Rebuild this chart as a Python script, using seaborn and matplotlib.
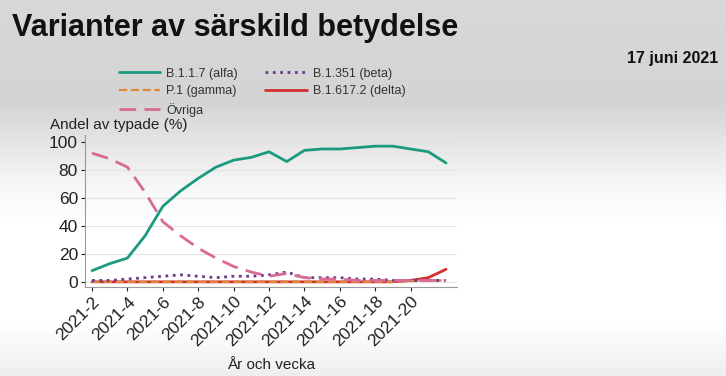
import matplotlib
matplotlib.use("Agg")
import matplotlib.pyplot as plt
import seaborn as sns
import pandas as pd
import numpy as np
from matplotlib.colors import LinearSegmentedColormap

weeks = list(range(2, 23))
alfa = [8, 13, 17, 33, 54, 65, 74, 82, 87, 89, 93, 86, 94, 95, 95, 96, 97, 97, 95, 93, 85]
beta = [1, 1, 2, 3, 4, 5, 4, 3, 4, 4, 5, 7, 3, 3, 3, 2, 2, 1, 1, 1, 1]
gamma = [0, 0, 0, 0, 0, 0, 0, 0, 0, 0, 0, 0, 0, 0, 0, 0, 0, 0, 0.5, 1, 1]
delta = [0, 0, 0, 0, 0, 0, 0, 0, 0, 0, 0, 0, 0, 0, 0, 0, 0, 0, 1, 3, 9]
ovriga = [92, 88, 82, 64, 43, 33, 24, 17, 11, 7, 4, 6, 3, 2, 2, 1, 1, 1, 1, 1, 1]
tick_weeks = list(range(2, 21, 2))
tick_labels = [f"2021-{w}" for w in tick_weeks]

series = [
    ("B.1.1.7 (alfa)", alfa, "#1b9a80", "-", 2.0),
    ("B.1.351 (beta)", beta, "#6b3a8c", ":", 2.0),
    ("P.1 (gamma)", gamma, "#e0883a", "--", 1.6),
    ("B.1.617.2 (delta)", delta, "#d23030", "-", 2.0),
    ("Övriga", ovriga, "#d86a95", (0, (6, 3)), 2.0),
]

sns.set_theme(style="white")
plt.rcParams["font.family"] = ["Liberation Sans", "DejaVu Sans"]

fig = plt.figure(figsize=(7.26, 3.76), dpi=100)
fig.patch.set_facecolor("#f0f0f0")

# background gradient
bg = fig.add_axes([0, 0, 1, 1], zorder=-10)
bg.set_axis_off()
cmap = LinearSegmentedColormap.from_list(
    "bg", [(0.0, "#d8d8d8"), (0.27, "#d4d4d4"), (0.5, "#f8f8f8"),
           (0.6, "#ffffff"), (0.87, "#ffffff"), (1.0, "#eeeeee")])
grad = np.linspace(0, 1, 376).reshape(-1, 1)
bg.imshow(grad, aspect="auto", cmap=cmap, extent=[0, 1, 0, 1], origin="upper")

ax = fig.add_axes([0.117, 0.237, 0.512, 0.404])
ax.patch.set_alpha(0)

order = [3, 2, 1, 4, 0]
for i in order:
    name, vals, col, ls, lw = series[i]
    df = pd.DataFrame({"week": weeks, "value": vals})
    sns.lineplot(data=df, x="week", y="value", ax=ax, color=col, linewidth=lw,
                 linestyle=ls, label=name)

ax.set_xlim(1.6, 22.6)
ax.set_ylim(-3.6, 105)
ax.set_yticks([0, 20, 40, 60, 80, 100])
ax.set_xticks(tick_weeks)
ax.set_xticklabels(tick_labels, rotation=45, ha="right", rotation_mode="anchor")
ax.tick_params(axis="both", labelsize=12.5, colors="#222222", length=3, width=0.8, pad=2)
ax.tick_params(axis="y", left=True)
ax.tick_params(axis="x", bottom=True)
ax.grid(axis="y", color="#e4e4e4", linewidth=0.8)
for s in ["top", "right"]:
    ax.spines[s].set_visible(False)
for s in ["left", "bottom"]:
    ax.spines[s].set_color("#999999")
    ax.spines[s].set_linewidth(0.8)
ax.set_xlabel("År och vecka", fontsize=11, color="#222222", labelpad=6)
ax.set_ylabel("")

ax.get_legend().remove()
h, l = ax.get_legend_handles_labels()
lab_order = ["B.1.1.7 (alfa)", "P.1 (gamma)", "Övriga", "B.1.351 (beta)", "B.1.617.2 (delta)"]
hmap = dict(zip(l, h))
leg = fig.legend([hmap[k] for k in lab_order], lab_order, ncol=2, loc="upper left",
                 bbox_to_anchor=(0.148, 0.85), frameon=False, fontsize=9,
                 handlelength=3.3, columnspacing=2.2, labelspacing=0.45, handletextpad=0.5)
for t in leg.get_texts():
    t.set_color("#333333")

fig.text(0.017, 0.925, "Varianter av särskild betydelse", fontsize=22, fontweight="bold",
         color="#111111", va="center", ha="left")
fig.text(0.99, 0.845, "17 juni 2021", fontsize=11.5, fontweight="bold",
         color="#111111", va="center", ha="right")
fig.text(0.069, 0.668, "Andel av typade (%)", fontsize=11, color="#222222",
         va="center", ha="left")

fig.savefig("out.png", dpi=100, facecolor=fig.get_facecolor())
